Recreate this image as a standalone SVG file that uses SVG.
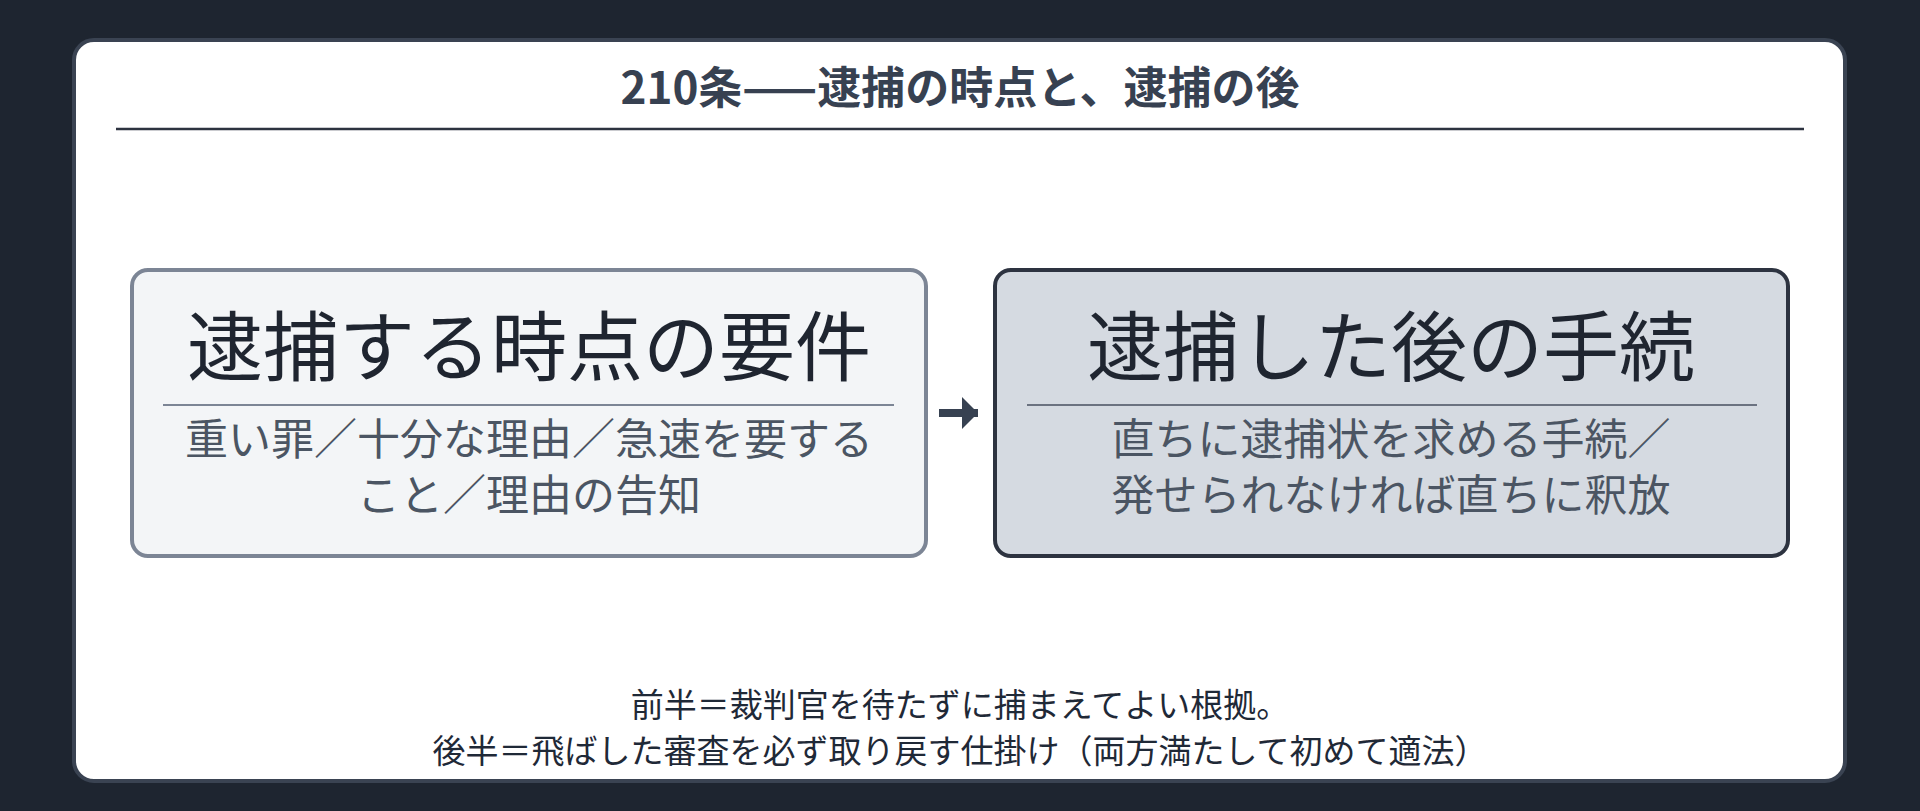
<svg xmlns="http://www.w3.org/2000/svg" width="1920" height="811" viewBox="0 0 1920 811">
<style>
text{font-family:"Noto Sans CJK JP","Noto Sans",sans-serif;text-anchor:middle}
.t{font-size:44px;font-weight:700;fill:#374151}
.h{font-size:76px;fill:#1f2530}
.s{font-size:43px;fill:#4b5563}
.n{font-size:33px;fill:#1f2937}
</style>
<defs><marker id="ah" markerWidth="4" markerHeight="4" refX="2" refY="2" orient="auto" markerUnits="strokeWidth"><path d="M0,0L2,2L0,4Z" fill="#374151"/></marker></defs>
<rect width="1920" height="811" fill="#1e2530"/>
<rect x="74" y="40" width="1771" height="741" rx="20" fill="#fff" stroke="#3a4352" stroke-width="4"/>
<text class="t" x="960" y="104">210条——逮捕の時点と、逮捕の後</text>
<line x1="116" y1="129" x2="1804" y2="129" stroke="#2d3340" stroke-width="2.5"/>
<g id="connectors"><line x1="939" y1="413" x2="978" y2="413" stroke="#374151" stroke-width="8" marker-end="url(#ah)"/></g>
<g id="left">
<rect x="132" y="270" width="794" height="286" rx="16" fill="#f3f5f7" stroke="#7c8595" stroke-width="4"/>
<text class="h" x="529" y="375">逮捕する時点の要件</text>
<line x1="163" y1="405" x2="894" y2="405" stroke="#7c8595" stroke-width="2"/>
<text class="s" x="529" y="455">重い罪／十分な理由／急速を要する</text>
<text class="s" x="529" y="511">こと／理由の告知</text>
</g>
<g id="right">
<rect x="995" y="270" width="793" height="286" rx="16" fill="#d5dae1" stroke="#2d3340" stroke-width="4"/>
<text class="h" x="1391" y="375">逮捕した後の手続</text>
<line x1="1027" y1="405" x2="1757" y2="405" stroke="#6b7280" stroke-width="2"/>
<text class="s" x="1391" y="455">直ちに逮捕状を求める手続／</text>
<text class="s" x="1391" y="511">発せられなければ直ちに釈放</text>
</g>
<text class="n" x="960" y="717">前半＝裁判官を待たずに捕まえてよい根拠。</text>
<text class="n" x="960" y="763">後半＝飛ばした審査を必ず取り戻す仕掛け（両方満たして初めて適法）</text>
</svg>
